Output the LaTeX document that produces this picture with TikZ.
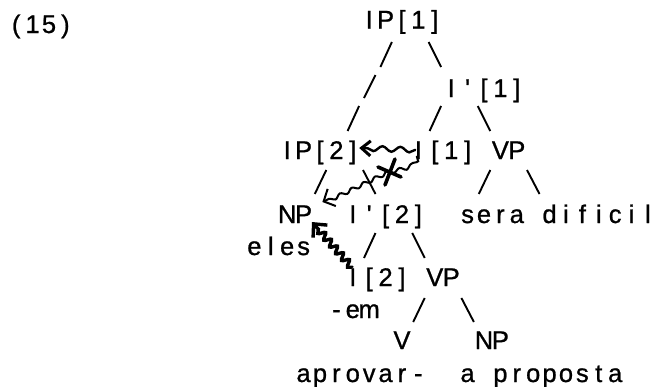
\documentclass[tikz,border=0pt]{standalone}
\usepackage{fontspec}
\setmainfont[FakeBold=0.9]{Liberation Sans}
\usetikzlibrary{arrows.meta,decorations.pathmorphing,calc}

% fixed-pitch setting: every character sits centred in a cell of equal width
\newlength\cellw
\setlength\cellw{16.4pt}
\makeatletter
\newcommand\typed[1]{\typed@loop#1\relax}
\def\typed@loop#1{\ifx#1\relax\else\makebox[\cellw]{#1}\expandafter\typed@loop\fi}
\makeatother
\newcommand\q{\textquotesingle}

\tikzset{
  typed/.style={inner sep=0pt, anchor=base west, font=\fontsize{25.5}{30}\selectfont},
  branch/.style={line width=1.9pt, line cap=butt},
  waveA/.style={line width=2.4pt, decorate,
    decoration={snake, amplitude=2.6pt, segment length=18pt, pre length=1pt, post length=7pt}},
  waveB/.style={line width=2pt, decorate,
    decoration={snake, amplitude=1.8pt, segment length=13pt, pre length=1pt, post length=6pt}},
  waveC/.style={line width=3.4pt, decorate,
    decoration={snake, amplitude=3.2pt, segment length=9pt, pre length=1pt, post length=8pt}},
}

% column centre of the typed grid, and the two slash directions
\newcommand\colx[1]{287+16.4*#1}
\newcommand\fwd[3]{\draw[branch] ({\colx{#1}+6.5},#2) -- ({\colx{#1}-5},#3);}
\newcommand\bwd[3]{\draw[branch] ({\colx{#1}-6},#2) -- ({\colx{#1}+6.5},#3);}

\begin{document}
\begin{tikzpicture}[x=1pt,y=-1pt]
\useasboundingbox (0,0) rectangle (654,386);
\fill[white] (0,0) rectangle (654,386);

% labels, left edge of cell c is 278.8+16.4c
\node[typed] (ex)     at (7.8,33)    {\typed{(15)}};
\node[typed] (IP1)    at (360.8,28.5) {\typed{IP[1]}};
\node[typed] (Ibar1)  at (442.8,97)  {\typed{I\q[1]}};
\node[typed] (IP2)    at (278.8,159) {\typed{IP[2]}};
\node[typed] (I1)     at (410,159)   {\typed{I[1]}};
\node[typed] (VP1)    at (492,159)   {\typed{VP}};
\node[typed] (NP1)    at (278.8,223) {\typed{NP}};
\node[typed] (Ibar2)  at (344.4,223) {\typed{I\q[2]}};
\node[typed] (sera)   at (459.2,223) {\typed{sera~dificil}};
\node[typed] (eles)   at (246,255)   {\typed{eles}};
\node[typed] (I2)     at (344.4,286) {\typed{I[2]}};
\node[typed] (VP2)    at (426.4,286) {\typed{VP}};
\node[typed] (em)     at (328,318)   {\typed{-em}};
\node[typed] (V)      at (393.6,349) {\typed{V}};
\node[typed] (NP2)    at (475.6,349) {\typed{NP}};
\node[typed] (aprov)  at (295.2,382) {\typed{aprovar-}};
\node[typed] (prop)   at (459.2,382) {\typed{a~proposta}};

% typed tree branches, one slash per text line
\fwd{6}{42}{67}   \bwd{9}{42}{67}
\fwd{5}{75}{98}
\fwd{4}{106}{131} \fwd{9}{106}{131} \bwd{12}{106}{131}
\fwd{2}{170}{194} \bwd{5}{170}{194} \fwd{12}{170}{194} \bwd{15}{170}{194}
\fwd{5}{233}{258} \bwd{8}{233}{258}
\fwd{8}{298}{322} \bwd{11}{298}{322}

% movement arrows
\draw[waveA, -{Straight Barb[length=9pt,width=15pt,line width=3pt]}]
  ($(I1.base west)+(6,-9)$) -- ($(IP2.base east)+(-2,-11)$);
\draw[waveB, -{Straight Barb[length=9pt,width=19pt,line width=2pt]}]
  ($(I1.base west)+(7,-3)$) .. controls +(0,9) and +(12,-3) .. ($(I1.base west)+(-20,10.5)$)
  -- ($(NP1.base east)+(10.4,-21)$);
\draw[waveC, -{Straight Barb[length=10pt,width=19pt,line width=3.4pt]}]
  ($(I2.base west)+(8,-18)$) -- ($(NP1.base east)+(0,-1)$);

% blocking mark on the second arrow
\draw[line width=3.6pt, line cap=round] (378,167) -- (401,177) (395,159) -- (385,185);
\end{tikzpicture}
\end{document}
